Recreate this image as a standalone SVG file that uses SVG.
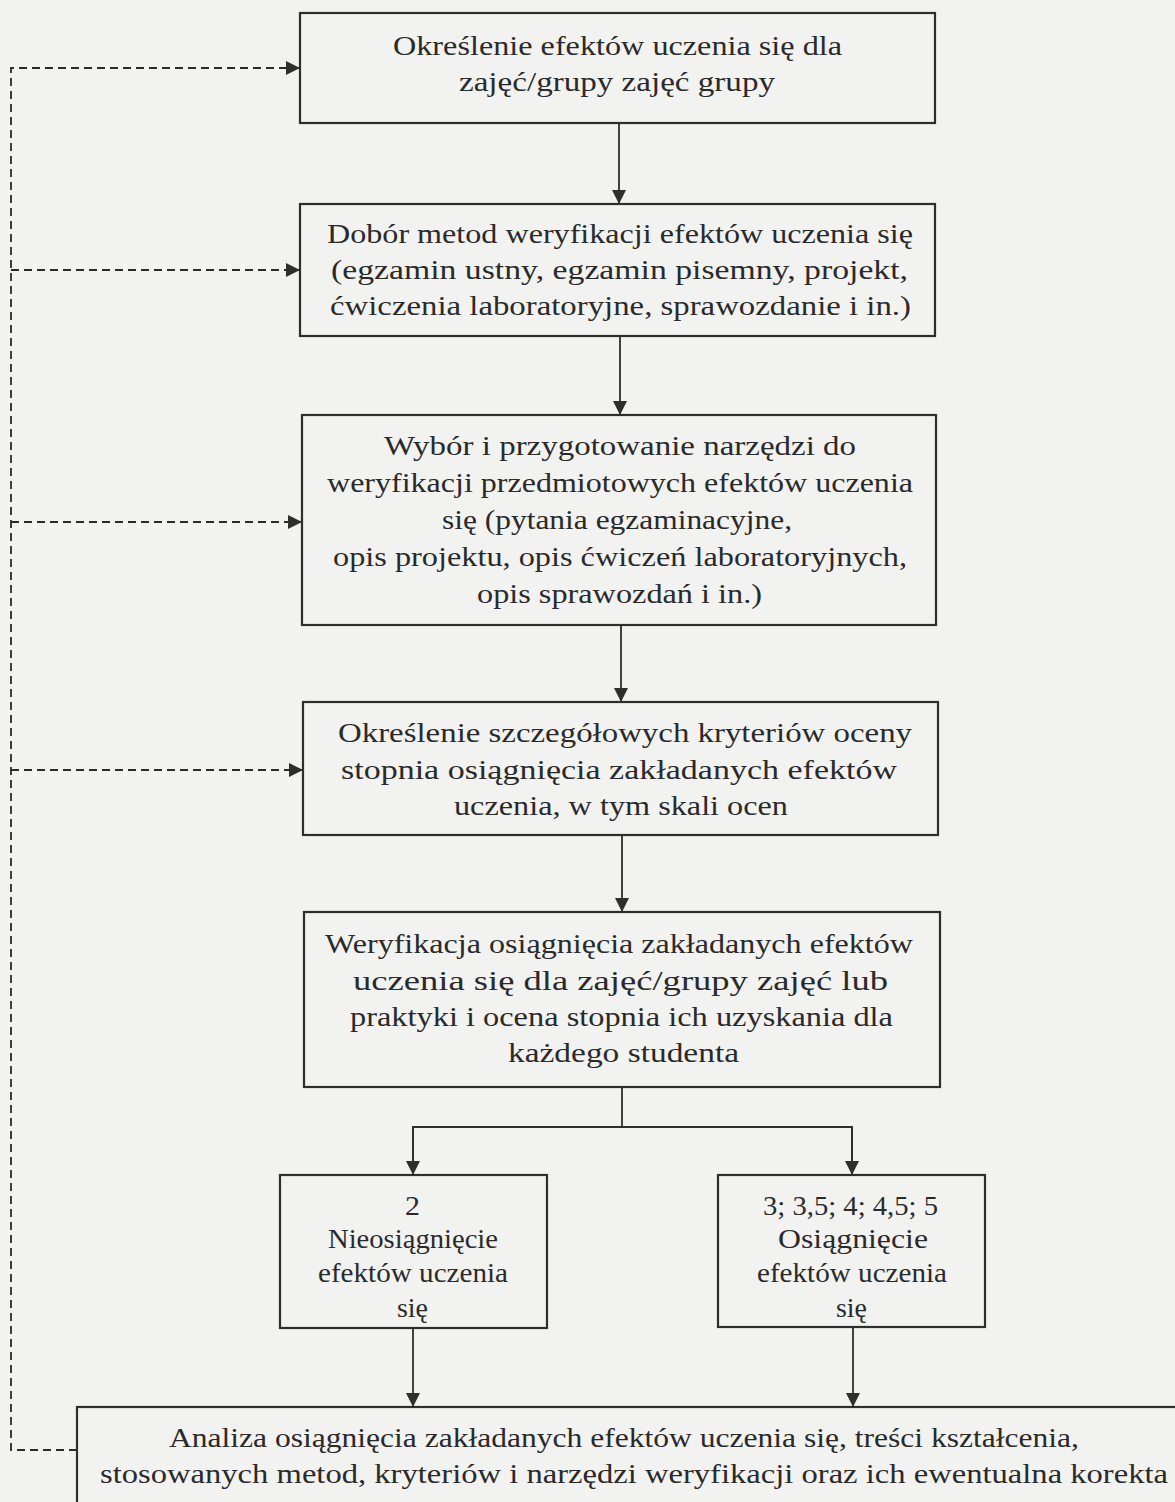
<svg xmlns="http://www.w3.org/2000/svg" width="1175" height="1502" viewBox="0 0 1175 1502">
<style>
.box{fill:none;stroke:#2e2e2e;stroke-width:2.2}
.t{font-family:"Liberation Serif","Times New Roman",serif;font-size:28px;fill:#2a2a2a}
.ln{fill:none;stroke:#2e2e2e;stroke-width:1.8}
.dash{fill:none;stroke:#2a2a2a;stroke-width:1.8;stroke-dasharray:8 5}
</style>
<defs>
<marker id="ah" viewBox="0 0 14 14" refX="14" refY="7" markerWidth="14" markerHeight="14" markerUnits="userSpaceOnUse" orient="auto">
<path d="M0,0 L14,7 L0,14 z" fill="#2e2e2e"/>
</marker>
</defs>
<rect width="1175" height="1502" fill="#f2f2f1"/>
<g id="connectors">
<line class="ln" x1="619" y1="123" x2="619" y2="204" marker-end="url(#ah)"/>
<line class="ln" x1="620" y1="336" x2="620" y2="415" marker-end="url(#ah)"/>
<line class="ln" x1="621" y1="625" x2="621" y2="702" marker-end="url(#ah)"/>
<line class="ln" x1="622" y1="835" x2="622" y2="912" marker-end="url(#ah)"/>
<polyline class="ln" points="622,1087 622,1127"/>
<polyline class="ln" points="413,1175 413,1127 852,1127 852,1175"/>
<line class="ln" x1="413" y1="1127" x2="413" y2="1175" marker-end="url(#ah)"/>
<line class="ln" x1="852" y1="1127" x2="852" y2="1175" marker-end="url(#ah)"/>
<line class="ln" x1="413" y1="1328" x2="413" y2="1407" marker-end="url(#ah)"/>
<line class="ln" x1="853" y1="1327" x2="853" y2="1407" marker-end="url(#ah)"/>
<polyline class="dash" points="77,1450 11,1450 11,68 300,68" marker-end="url(#ah)"/>
<line class="dash" x1="11" y1="270" x2="300" y2="270" marker-end="url(#ah)"/>
<line class="dash" x1="11" y1="522" x2="302" y2="522" marker-end="url(#ah)"/>
<line class="dash" x1="11" y1="770" x2="303" y2="770" marker-end="url(#ah)"/>
</g>
<g id="n1">
<rect class="box" x="300" y="13" width="635" height="110"/>
<text class="t" x="393" y="55" textLength="449" lengthAdjust="spacingAndGlyphs">Określenie efektów uczenia się dla</text>
<text class="t" x="459" y="91" textLength="316" lengthAdjust="spacingAndGlyphs">zajęć/grupy zajęć grupy</text>
</g>
<g id="n2">
<rect class="box" x="300" y="204" width="635" height="132"/>
<text class="t" x="327" y="243" textLength="586" lengthAdjust="spacingAndGlyphs">Dobór metod weryfikacji efektów uczenia się</text>
<text class="t" x="331" y="279" textLength="577" lengthAdjust="spacingAndGlyphs">(egzamin ustny, egzamin pisemny, projekt,</text>
<text class="t" x="330" y="315" textLength="581" lengthAdjust="spacingAndGlyphs">ćwiczenia laboratoryjne, sprawozdanie i in.)</text>
</g>
<g id="n3">
<rect class="box" x="302" y="415" width="634" height="210"/>
<text class="t" x="384" y="455" textLength="472" lengthAdjust="spacingAndGlyphs">Wybór i przygotowanie narzędzi do</text>
<text class="t" x="327" y="492" textLength="586" lengthAdjust="spacingAndGlyphs">weryfikacji przedmiotowych efektów uczenia</text>
<text class="t" x="442" y="529" textLength="350" lengthAdjust="spacingAndGlyphs">się (pytania egzaminacyjne,</text>
<text class="t" x="333" y="566" textLength="574" lengthAdjust="spacingAndGlyphs">opis projektu, opis ćwiczeń laboratoryjnych,</text>
<text class="t" x="477" y="603" textLength="285" lengthAdjust="spacingAndGlyphs">opis sprawozdań i in.)</text>
</g>
<g id="n4">
<rect class="box" x="303" y="702" width="635" height="133"/>
<text class="t" x="338" y="742" textLength="574" lengthAdjust="spacingAndGlyphs">Określenie szczegółowych kryteriów oceny</text>
<text class="t" x="341" y="779" textLength="556" lengthAdjust="spacingAndGlyphs">stopnia osiągnięcia zakładanych efektów</text>
<text class="t" x="454" y="815" textLength="334" lengthAdjust="spacingAndGlyphs">uczenia, w tym skali ocen</text>
</g>
<g id="n5">
<rect class="box" x="304" y="912" width="636" height="175"/>
<text class="t" x="325" y="953" textLength="588" lengthAdjust="spacingAndGlyphs">Weryfikacja osiągnięcia zakładanych efektów</text>
<text class="t" x="353" y="990" textLength="535" lengthAdjust="spacingAndGlyphs">uczenia się dla zajęć/grupy zajęć lub</text>
<text class="t" x="350" y="1026" textLength="543" lengthAdjust="spacingAndGlyphs">praktyki i ocena stopnia ich uzyskania dla</text>
<text class="t" x="508" y="1062" textLength="231" lengthAdjust="spacingAndGlyphs">każdego studenta</text>
</g>
<g id="n6">
<rect class="box" x="280" y="1175" width="267" height="153"/>
<text class="t" x="405" y="1215" textLength="15" lengthAdjust="spacingAndGlyphs">2</text>
<text class="t" x="328" y="1248" textLength="170" lengthAdjust="spacingAndGlyphs">Nieosiągnięcie</text>
<text class="t" x="318" y="1282" textLength="190" lengthAdjust="spacingAndGlyphs">efektów uczenia</text>
<text class="t" x="397" y="1317" textLength="31" lengthAdjust="spacingAndGlyphs">się</text>
</g>
<g id="n7">
<rect class="box" x="718" y="1175" width="267" height="152"/>
<text class="t" x="763" y="1215" textLength="175" lengthAdjust="spacingAndGlyphs">3; 3,5; 4; 4,5; 5</text>
<text class="t" x="778" y="1248" textLength="150" lengthAdjust="spacingAndGlyphs">Osiągnięcie</text>
<text class="t" x="757" y="1282" textLength="190" lengthAdjust="spacingAndGlyphs">efektów uczenia</text>
<text class="t" x="836" y="1317" textLength="31" lengthAdjust="spacingAndGlyphs">się</text>
</g>
<g id="n8">
<rect class="box" x="77" y="1407" width="1120" height="120"/>
<text class="t" x="169" y="1447" textLength="910" lengthAdjust="spacingAndGlyphs">Analiza osiągnięcia zakładanych efektów uczenia się, treści kształcenia,</text>
<text class="t" x="100" y="1483" textLength="1068" lengthAdjust="spacingAndGlyphs">stosowanych metod, kryteriów i narzędzi weryfikacji oraz ich ewentualna korekta</text>
</g>
</svg>
